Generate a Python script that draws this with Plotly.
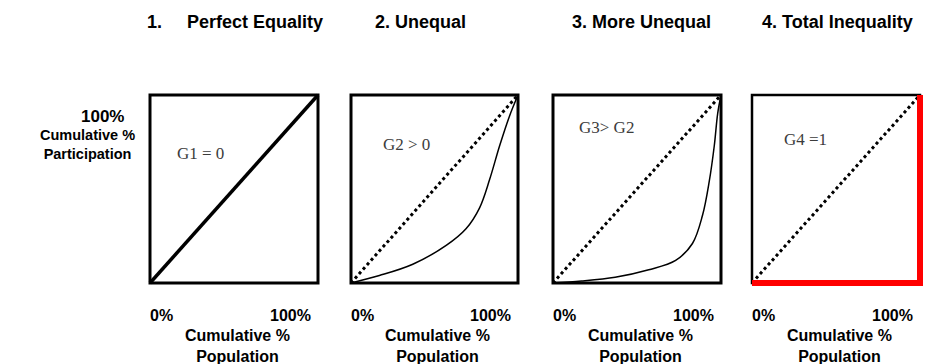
import plotly.graph_objects as go

# ---------------- data ----------------
panel_titles = ["1.\u00a0\u00a0\u00a0\u00a0 Perfect Equality", "2. Unequal", "3. More Unequal", "4. Total Inequality"]
gini_labels = ["G1 = 0", "G2 > 0", "G3> G2", "G4 =1"]
x_tick_labels = ["0%", "100%"]
y_tick_label = "100%"
x_axis_title = "Cumulative %<br>Population"
y_axis_title = "Cumulative %<br>Participation"

equality_x = [0, 1]
equality_y = [0, 1]

unequal_x = [0, 0.17, 0.37, 0.57, 0.69, 0.77, 0.83, 0.89, 0.95, 1.0]
unequal_y = [0, 0.04, 0.10, 0.20, 0.29, 0.40, 0.55, 0.73, 0.89, 1.0]

more_unequal_x = [0, 0.17, 0.37, 0.57, 0.73, 0.83, 0.89, 0.93, 0.96, 0.98, 1.0]
more_unequal_y = [0, 0.01, 0.03, 0.07, 0.12, 0.21, 0.36, 0.54, 0.73, 0.90, 1.0]

total_x = [0, 1, 1]
total_y = [0, 0, 1]

# ---------------- layout helpers ----------------
W, H = 925, 364
boxes_px = [(150, 318), (351, 518), (553, 721), (752, 920)]
box_top, box_bottom = 95, 283
PAD = 0.025

def px_x(v):
    return min(1.0, max(0.0, v / W))

def px_y(v):
    return min(1.0, max(0.0, 1 - v / H))

fig = go.Figure()

ydom_pad = (box_bottom - box_top) * PAD
ydomain = [px_y(box_bottom + ydom_pad), px_y(box_top - ydom_pad)]

BOLD = dict(family="Liberation Sans", color="black")

for i, (l, r) in enumerate(boxes_px):
    xp = (r - l) * PAD
    ax = "" if i == 0 else str(i + 1)
    common = dict(range=[-PAD, 1 + PAD], showgrid=False, zeroline=False,
                  showticklabels=False, ticks="", showline=False, fixedrange=True)
    fig.layout["xaxis" + ax] = dict(domain=[px_x(l - xp), px_x(r + xp)], anchor="y" + ax, **common)
    fig.layout["yaxis" + ax] = dict(domain=ydomain, anchor="x" + ax, **common)

    xr, yr = "x" + ax, "y" + ax
    # box border
    fig.add_shape(type="rect", xref=xr, yref=yr, x0=0, x1=1, y0=0, y1=1,
                  line=dict(color="black", width=3 if i < 3 else 2.5), layer="below")

    # x tick labels
    fig.add_annotation(xref=xr, yref="paper", x=-0.01, y=px_y(315), text="<b>" + x_tick_labels[0] + "</b>",
                       showarrow=False, xanchor="left", yanchor="middle", font=dict(size=16, **BOLD))
    fig.add_annotation(xref=xr, yref="paper", x=0.97, y=px_y(315), text="<b>" + x_tick_labels[1] + "</b>",
                       showarrow=False, xanchor="right", yanchor="middle", font=dict(size=16, **BOLD))
    fig.add_annotation(xref=xr, yref="paper", x=0.52, y=px_y(346), text="<b>" + x_axis_title + "</b>",
                       showarrow=False, xanchor="center", yanchor="middle", font=dict(size=16, **BOLD))

# diagonal lines
fig.add_trace(go.Scatter(x=equality_x, y=equality_y, mode="lines", xaxis="x", yaxis="y",
                         line=dict(color="black", width=3.5)))
for ax in ["2", "3", "4"]:
    fig.add_trace(go.Scatter(x=equality_x, y=equality_y, mode="lines", xaxis="x" + ax, yaxis="y" + ax,
                             line=dict(color="black", width=3, dash="dot")))
fig.add_trace(go.Scatter(x=unequal_x, y=unequal_y, mode="lines", xaxis="x2", yaxis="y2",
                         line=dict(color="black", width=1.5, shape="spline")))
fig.add_trace(go.Scatter(x=more_unequal_x, y=more_unequal_y, mode="lines", xaxis="x3", yaxis="y3",
                         line=dict(color="black", width=1.5, shape="spline")))
fig.add_trace(go.Scatter(x=total_x, y=total_y, mode="lines", xaxis="x4", yaxis="y4",
                         line=dict(color="#ff0000", width=6)))

# titles
title_x = [145, 373, 570, 760]
for t, xv in zip(panel_titles, title_x):
    fig.add_annotation(xref="paper", yref="paper", x=px_x(xv), y=px_y(22), text="<b>" + t + "</b>",
                       showarrow=False, xanchor="left", yanchor="middle", font=dict(size=18, **BOLD))

# gini labels
gini_pos = [(175, 153), (381, 145), (577, 127), (782, 139)]
for g, (xv, yv) in zip(gini_labels, gini_pos):
    fig.add_annotation(xref="paper", yref="paper", x=px_x(xv), y=px_y(yv), text=g,
                       showarrow=False, xanchor="left", yanchor="middle",
                       font=dict(family="Liberation Serif", size=17, color="#3c3c3c"))

# y labels
fig.add_annotation(xref="paper", yref="paper", x=px_x(126), y=px_y(117), text="<b>" + y_tick_label + "</b>",
                   showarrow=False, xanchor="right", yanchor="middle", font=dict(size=17, **BOLD))
fig.add_annotation(xref="paper", yref="paper", x=px_x(87), y=px_y(145), text="<b>" + y_axis_title + "</b>",
                   showarrow=False, xanchor="center", yanchor="middle", font=dict(size=14.5, **BOLD))

fig.update_layout(width=W, height=H, margin=dict(l=0, r=0, t=0, b=0),
                  plot_bgcolor="white", paper_bgcolor="white", showlegend=False)

fig.write_html("out.html", config={"displayModeBar": False},
               post_script="document.body.style.margin='0';document.body.style.overflow='hidden';")
